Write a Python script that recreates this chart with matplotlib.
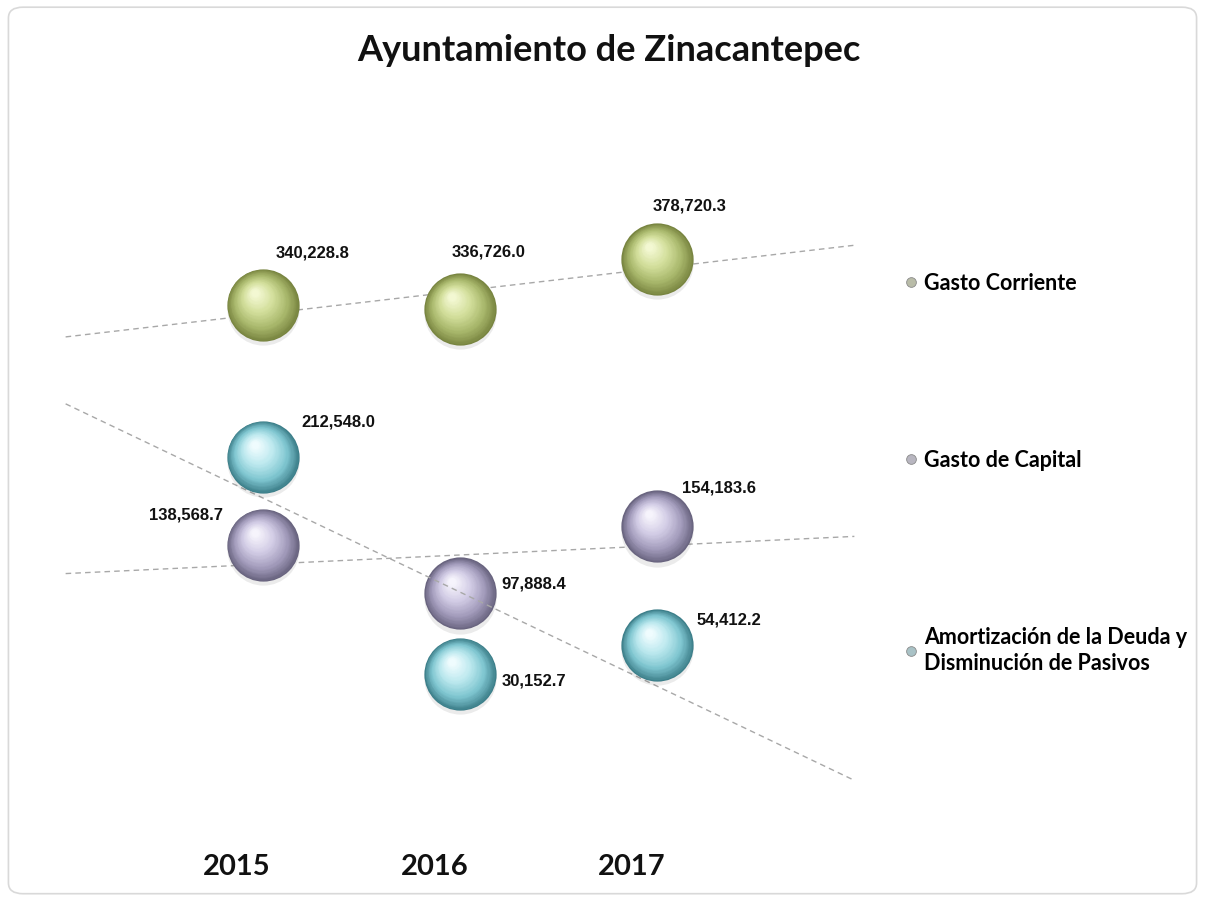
import matplotlib
matplotlib.use("Agg")
import matplotlib.pyplot as plt
import numpy as np
from matplotlib import transforms
from matplotlib.colors import LinearSegmentedColormap
from matplotlib.lines import Line2D
from matplotlib.patches import FancyBboxPatch

# ============================================================
# Data
# ============================================================
years = ["2015", "2016", "2017"]
series_names = ["Gasto Corriente", "Gasto de Capital",
                "Amortización de la Deuda y\nDisminución de Pasivos"]
gasto_corriente = [340228.8, 336726.0, 378720.3]
gasto_capital = [138568.7, 97888.4, 154183.6]
amortizacion = [212548.0, 30152.7, 54412.2]

# --- Styling ---
sphere_stops = [
    ["#77833f", "#a9b86c", "#d3df9c", "#f3f8d2"],  # green
    ["#67627d", "#a39cbc", "#d3cde6", "#f6f4fc"],  # lavender
    ["#3b7d88", "#7fc6d0", "#bde9ef", "#effcfe"],  # cyan
]
legend_tints = ["#b9bca8", "#b8b6c0", "#a9c2c6"]
# label offsets in pixels (dx, dy) from bubble centre, as placed in the original
label_offsets = [
    [(50, 52), (29, 57), (32, 53)],
    [(-77, 30), (74, 9), (62, 38)],
    [(75, 35), (74, -7), (72, 25)],
]
SPHERE_R_PT = 26
LABEL_FONT = ["Liberation Sans", "DejaVu Sans"]
TEXT_FONT = ["Lato", "DejaVu Sans"]

fig = plt.figure(figsize=(12.05, 9), dpi=100)
fig.patch.set_facecolor("white")

# rounded chart border
fig.patches.append(FancyBboxPatch((0.007, 0.007), 0.986, 0.985,
                                  boxstyle="round,pad=0,rounding_size=0.012",
                                  transform=fig.transFigure, facecolor="none",
                                  edgecolor="#d9d9d9", linewidth=1.2, zorder=0))

ax = fig.add_axes([40 / 1205, 1 - 820 / 900, 840 / 1205, 710 / 900])
ax.set_xlim(-0.13, 4.13)
ax.set_ylim(-92400, 504000)
ax.set_facecolor("none")
for s in ax.spines.values():
    s.set_visible(False)
ax.set_xticks([])
ax.set_yticks([])

x = np.arange(1, len(years) + 1)
all_series = [gasto_corriente, gasto_capital, amortizacion]


def draw_sphere(xv, yv, cmap, zorder, n=40):
    # shading built from stacked circles shrinking toward the highlight
    for k in range(n):
        f = k / (n - 1)
        r = SPHERE_R_PT * (1 - 0.9 * f)
        tr = transforms.offset_copy(ax.transData, fig=fig,
                                    x=-0.22 * SPHERE_R_PT * f,
                                    y=0.34 * SPHERE_R_PT * f, units="points")
        ax.scatter([xv], [yv], s=(2 * r) ** 2, color=cmap(f ** 0.9),
                   transform=tr, zorder=zorder, linewidths=0)


for i, vals in enumerate(all_series):
    cmap = LinearSegmentedColormap.from_list("s%d" % i, sphere_stops[i])
    # linear trendline, one period forward and backward
    coef = np.polyfit(x, vals, 1)
    tx = np.array([0, 4])
    ax.plot(tx, np.polyval(coef, tx), color="#a8a8a8", linewidth=1.0,
            linestyle=(0, (4, 3)), zorder=2 * i + 1)
    for j, v in enumerate(vals):
        # soft shadow below the bubble
        sh = transforms.offset_copy(ax.transData, fig=fig, x=0, y=-3, units="points")
        ax.scatter([x[j]], [v], s=(2 * SPHERE_R_PT) ** 2, color="#000000",
                   alpha=0.08, transform=sh, zorder=2 * i + 2, linewidths=0)
        draw_sphere(x[j], v, cmap, 2 * i + 2)
        dx, dy = label_offsets[i][j]
        ax.annotate(f"{v:,.1f}", (x[j], v), xytext=(dx * 0.72, dy * 0.72),
                    textcoords="offset points", ha="center", va="center",
                    fontsize=12, fontweight="bold", family=LABEL_FONT,
                    color="#111111", zorder=10)

# year labels
blend = transforms.blended_transform_factory(ax.transData, ax.transAxes)
for j, yr in enumerate(years):
    ax.text(x[j] - 0.13, -0.066, yr, transform=blend, ha="center", va="center",
            fontsize=21, fontweight="bold", family=TEXT_FONT, color="#111111")

fig.text(0.505, 0.944, "Ayuntamiento de Zinacantepec", ha="center", va="center",
         fontsize=26, fontweight="bold", family=TEXT_FONT, color="#111111")

handles = [Line2D([], [], linestyle="none", marker="o", markersize=7,
                  markerfacecolor=legend_tints[i], markeredgecolor="#8a8a8a",
                  markeredgewidth=0.6) for i in range(3)]
leg = fig.legend(handles, series_names, loc="center left",
                 bbox_to_anchor=(0.742, 0.474), frameon=False,
                 labelspacing=7.25, handlelength=0.6, handletextpad=0.3,
                 borderpad=0, prop={"family": TEXT_FONT, "weight": "bold", "size": 15.5})
for t in leg.get_texts():
    t.set_linespacing(1.3)

fig.savefig("out.png", dpi=100)
